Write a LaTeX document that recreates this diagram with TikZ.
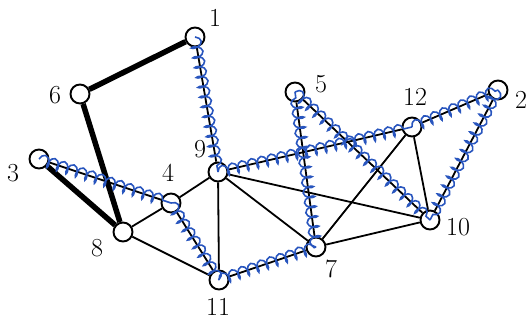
\documentclass[tikz,border=0pt]{standalone}
\usetikzlibrary{decorations.pathmorphing}
\definecolor{pen}{RGB}{40,85,190}
\begin{document}
\begin{tikzpicture}[x=1pt,y=-1pt,
  vtx/.style={circle,draw=black,fill=white,line width=1.9pt,minimum size=19pt,inner sep=0pt},
  lbl/.style={font=\fontsize{26}{26}\selectfont,inner sep=0pt},
  thin/.style={line width=1.8pt},
  heavy/.style={line width=5.5pt},
  scribble/.style={draw=pen,line width=1.6pt,decorate,
    decoration={coil,amplitude=5.5pt,segment length=10pt,aspect=0.5}}]
\useasboundingbox (0,0) rectangle (531,320);
\node[vtx] (n1) at (195,37) {};
\node[vtx] (n6) at (80,94) {};
\node[vtx] (n3) at (39,159) {};
\node[vtx] (n8) at (123,232) {};
\node[vtx] (n4) at (171,203) {};
\node[vtx] (n9) at (218,172) {};
\node[vtx] (n11) at (219,280) {};
\node[vtx] (n7) at (316,247) {};
\node[vtx] (n10) at (430,220) {};
\node[vtx] (n12) at (412,127) {};
\node[vtx] (n2) at (498,90) {};
\node[vtx] (n5) at (295,92) {};
% labels
\node[lbl] (l1) at (215,18) {1};
\node[lbl] (l6) at (55,95) {6};
\node[lbl] (l3) at (13,173) {3};
\node[lbl] (l4) at (168,173) {4};
\node[lbl] (l9) at (200,149) {9};
\node[lbl] (l8) at (97,248) {8};
\node[lbl] (l11) at (218,307) {11};
\node[lbl] (l7) at (331,269) {7};
\node[lbl] (l10) at (458,227) {10};
\node[lbl] (l12) at (415,97) {12};
\node[lbl] (l2) at (521,100) {2};
\node[lbl] (l5) at (321,84) {5};
% heavy edges
\draw[heavy] (n1) -- (n6);
\draw[heavy] (n6) -- (n8);
\draw[heavy] (n3) -- (n8);
% thin edges
\foreach \a/\b in {n1/n9,n3/n4,n8/n4,n8/n11,n4/n9,n4/n11,n9/n11,n9/n12,n9/n10,n9/n7,
  n11/n7,n5/n7,n5/n10,n12/n7,n12/n10,n12/n2,n2/n10,n7/n10}
  \draw[thin] (\a) -- (\b);
% blue scribbles
\foreach \a/\b in {n1/n9,n3/n4,n4/n11,n11/n7,n7/n5,n5/n10,n9/n12,n12/n2,n2/n10}
  \draw[scribble] (\a.center) -- (\b.center);
\end{tikzpicture}
\end{document}
